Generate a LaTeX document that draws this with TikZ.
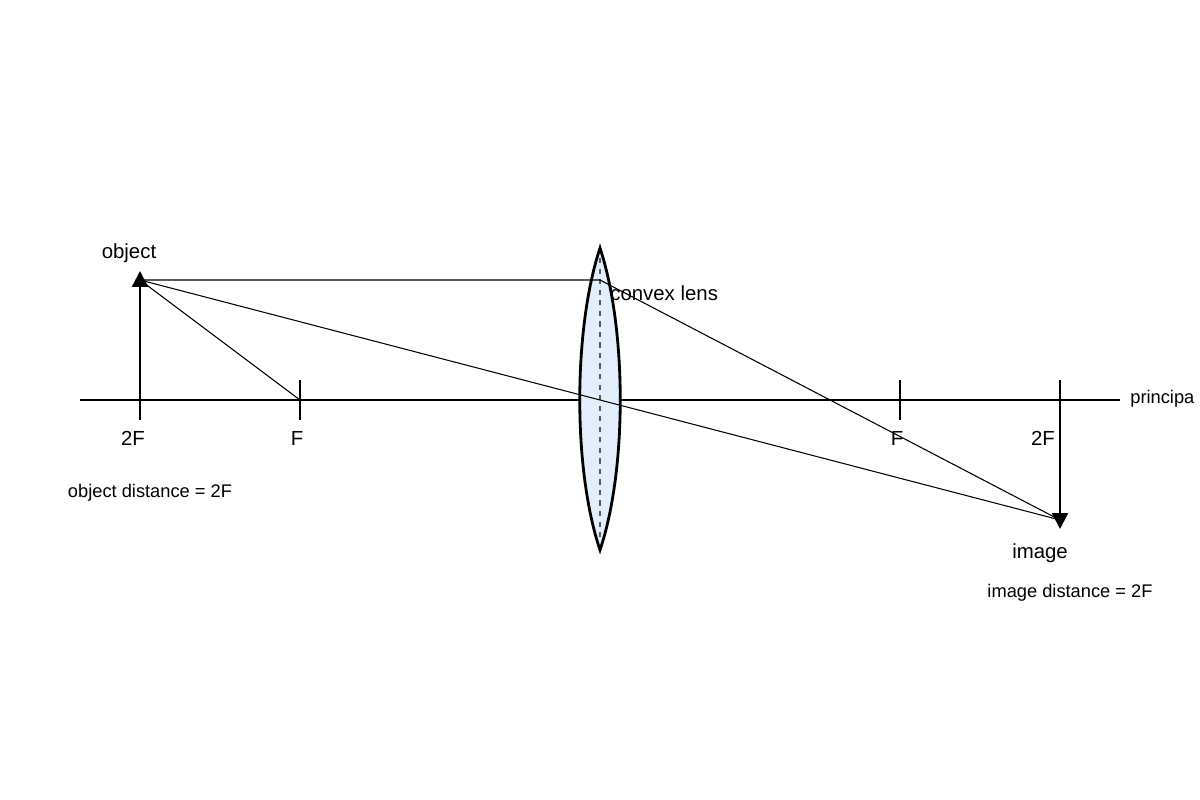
\documentclass[tikz,border=0pt]{standalone}
\usepackage{fontspec}
\setmainfont{Liberation Sans}
\usetikzlibrary{arrows.meta}
\definecolor{lensblue}{HTML}{E3EEFB}
\begin{document}
\begin{tikzpicture}[x=0.02cm,y=-0.02cm,
  lbl/.style={inner sep=0pt,font=\fontsize{11.6}{13}\selectfont},
  sm/.style={inner sep=0pt,font=\fontsize{10.4}{12}\selectfont},
  ray/.style={line width=0.6pt},
  arr/.style={line width=1.3pt,-{Triangle[width=9pt,length=9pt]}}]
\useasboundingbox (0,0) rectangle (1200,800);
\coordinate (ax0) at (80,400); \coordinate (ax1) at (1120,400);
\draw[line width=0.9pt] (ax0) -- (ax1);
\node[sm,anchor=west] (pa) at (1130,399) {principa};
\foreach \x/\n in {140/a,300/b,900/c,1060/d}{
  \coordinate (t\n1) at (\x,380); \coordinate (t\n2) at (\x,420);
  \draw[line width=0.9pt] (t\n1) -- (t\n2);}
% lens
\coordinate (lt) at (600,248); \coordinate (lb) at (600,550);
\draw[line width=1.6pt,fill=lensblue]
  (lt) .. controls (573,330) and (573,470) .. (lb)
       .. controls (627,470) and (627,330) .. (lt) -- cycle;
\draw[dashed,gray!70!black,line width=0.6pt] (600,258) -- (600,542);
% rays
\coordinate (o) at (140,280); \coordinate (lp) at (600,280);
\coordinate (i) at (1060,520); \coordinate (f1) at (300,400);
\draw[ray] (o) -- (lp) -- (i);
\draw[ray] (o) -- (f1);
\draw[ray] (o) -- (i);
% arrows
\coordinate (ob) at (140,400); \coordinate (ib) at (1060,400); \coordinate (it) at (1060,529);
\draw[arr] (ob) -- (140,271);
\draw[arr] (ib) -- (it);
% labels
\node[lbl] (l1) at (133,438) {2F};
\node[lbl] (l2) at (297,438) {F};
\node[lbl] (l3) at (897,438) {F};
\node[lbl] (l4) at (1043,438) {2F};
\node[lbl] (obj) at (129,253) {object};
\node[lbl] (img) at (1040,553) {image};
\node[lbl,anchor=west] (cl) at (610,293) {convex lens};
\node[sm] (od) at (150,493) {object distance = 2F};
\node[sm] (id) at (1070,593) {image distance = 2F};
\end{tikzpicture}
\end{document}
